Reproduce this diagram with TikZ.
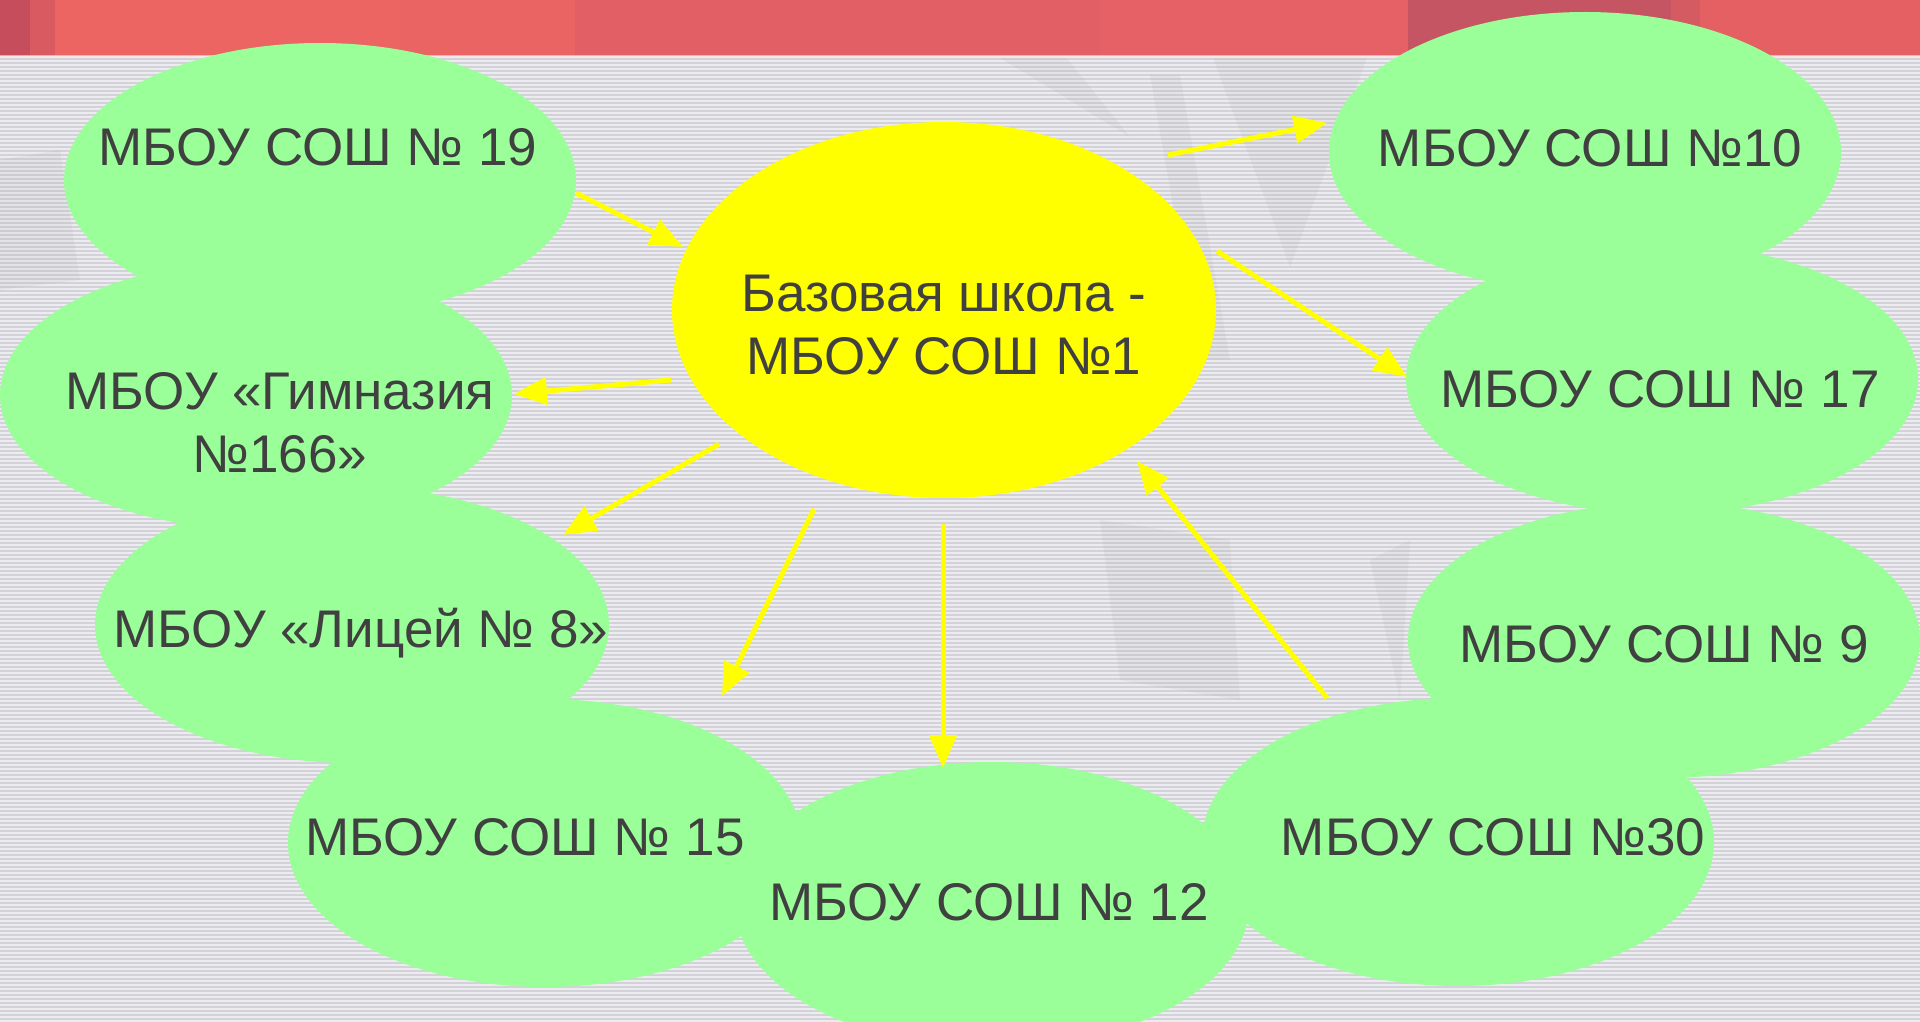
\documentclass[tikz,border=0pt]{standalone}
\usepackage{fontspec}
\setmainfont{Liberation Sans}
\usetikzlibrary{arrows.meta,shapes.geometric}
\definecolor{grn}{RGB}{154,255,153}
\definecolor{ylw}{RGB}{255,255,0}
\definecolor{txt}{RGB}{64,64,64}
\definecolor{bg}{RGB}{236,236,240}
\definecolor{stripe}{RGB}{210,210,216}
\definecolor{redA}{RGB}{198,78,92}
\definecolor{redB}{RGB}{236,101,99}
\definecolor{redC}{RGB}{226,95,102}
\definecolor{redD}{RGB}{198,85,99}
\definecolor{redE}{RGB}{228,96,99}
\begin{document}
\begin{tikzpicture}[x=1pt,y=-1pt,
  school/.style={ellipse, fill=grn, inner sep=0pt, outer sep=0pt},
  base/.style={ellipse, fill=ylw, inner sep=0pt, outer sep=0pt},
  lbl/.style={text=txt, font=\fontsize{53}{63}\selectfont, inner sep=0pt, anchor=base, align=center},
  link/.style={draw=ylw, line width=5pt, -{Triangle[length=33pt,width=27pt]}},
  shade/.style={fill=black!40, opacity=0.10}]
\useasboundingbox (0,0) rectangle (1920,1022);
% background
\fill[bg] (0,0) rectangle (1920,1022);
\foreach \y in {58,62,...,1022} \fill[stripe] (0,\y) rectangle (1920,\y+1.6);
% faint background shapes
\fill[shade] (1213,58) -- (1367,58) -- (1290,267) -- cycle;
\fill[shade] (1000,58) -- (1067,58) -- (1130,137) -- cycle;
\fill[shade] (1150,75) -- (1180,75) -- (1230,360) -- (1200,360) -- cycle;
\fill[shade] (1100,520) -- (1230,540) -- (1240,700) -- (1120,680) -- cycle;
\fill[shade] (1370,560) -- (1410,540) -- (1400,700) -- cycle;
\fill[shade] (0,160) -- (60,150) -- (80,280) -- (0,290) -- cycle;
% banner
\fill[redB] (0,0) rectangle (1920,56);
\fill[redA] (0,0) rectangle (30,56);
\fill[redA!50!redB] (30,0) rectangle (55,56);
\fill[redB!80!redC] (400,0) rectangle (575,56);
\fill[redC] (575,0) rectangle (1408,56);
\fill[redC!70!redB] (1100,0) rectangle (1408,56);
\fill[redD] (1408,0) rectangle (1671,56);
\fill[redD!50!redE] (1671,0) rectangle (1700,56);
\fill[redE] (1700,0) rectangle (1920,56);
\fill[white!90!red, opacity=0.6] (0,55) rectangle (1920,58);
% ellipses
\node[school, minimum width=512pt, minimum height=274pt] (e19) at (320,180) {};
\node[school, minimum width=512pt, minimum height=268pt] (egym) at (256,395) {};
\node[school, minimum width=514pt, minimum height=276pt] (elyc) at (352,625) {};
\node[school, minimum width=514pt, minimum height=288pt] (e15) at (545,843) {};
\node[school, minimum width=514pt, minimum height=286pt] (e12) at (992,905) {};
\node[school, minimum width=512pt, minimum height=288pt] (e30) at (1458,842) {};
\node[school, minimum width=512pt, minimum height=276pt] (e9) at (1664,640) {};
\node[school, minimum width=512pt, minimum height=270pt] (e17) at (1662,379) {};
\node[school, minimum width=512pt, minimum height=280pt] (e10) at (1585,152) {};
\node[base, minimum width=544pt, minimum height=376pt] (eb) at (944,310) {};
% labels
\node[lbl] (t19) at (318,166) {МБОУ СОШ № 19};
\node[lbl] (tgym) at (280,472) {МБОУ «Гимназия\\№166»};
\node[lbl] (tlyc) at (361,647) {МБОУ «Лицей № 8»};
\node[lbl] (t15) at (525,855) {МБОУ СОШ № 15};
\node[lbl] (t12) at (989,920) {МБОУ СОШ № 12};
\node[lbl] (t30) at (1493,855) {МБОУ СОШ №30};
\node[lbl] (t9) at (1664,662) {МБОУ СОШ № 9};
\node[lbl] (t17) at (1660,407) {МБОУ СОШ № 17};
\node[lbl] (t10) at (1590,167) {МБОУ СОШ №10};
\node[lbl] (tb) at (944,374) {Базовая школа -\\МБОУ СОШ №1};
% arrow end points
\coordinate (a1s) at (576,193);  \coordinate (a1e) at (683,247);
\coordinate (a2s) at (671,380);  \coordinate (a2e) at (514,394);
\coordinate (a3s) at (719,444);  \coordinate (a3e) at (563,535);
\coordinate (a4s) at (814,509);  \coordinate (a4e) at (722,696);
\coordinate (a5s) at (943,524);  \coordinate (a5e) at (943,768);
\coordinate (a6s) at (1327,698); \coordinate (a6e) at (1137,461);
\coordinate (a7s) at (1217,251); \coordinate (a7e) at (1407,377);
\coordinate (a8s) at (1168,155); \coordinate (a8e) at (1327,123);
\draw[link] (a1s) -- (a1e);
\draw[link] (a2s) -- (a2e);
\draw[link] (a3s) -- (a3e);
\draw[link] (a4s) -- (a4e);
\draw[link] (a5s) -- (a5e);
\draw[link] (a6s) -- (a6e);
\draw[link] (a7s) -- (a7e);
\draw[link] (a8s) -- (a8e);
\end{tikzpicture}
\end{document}
